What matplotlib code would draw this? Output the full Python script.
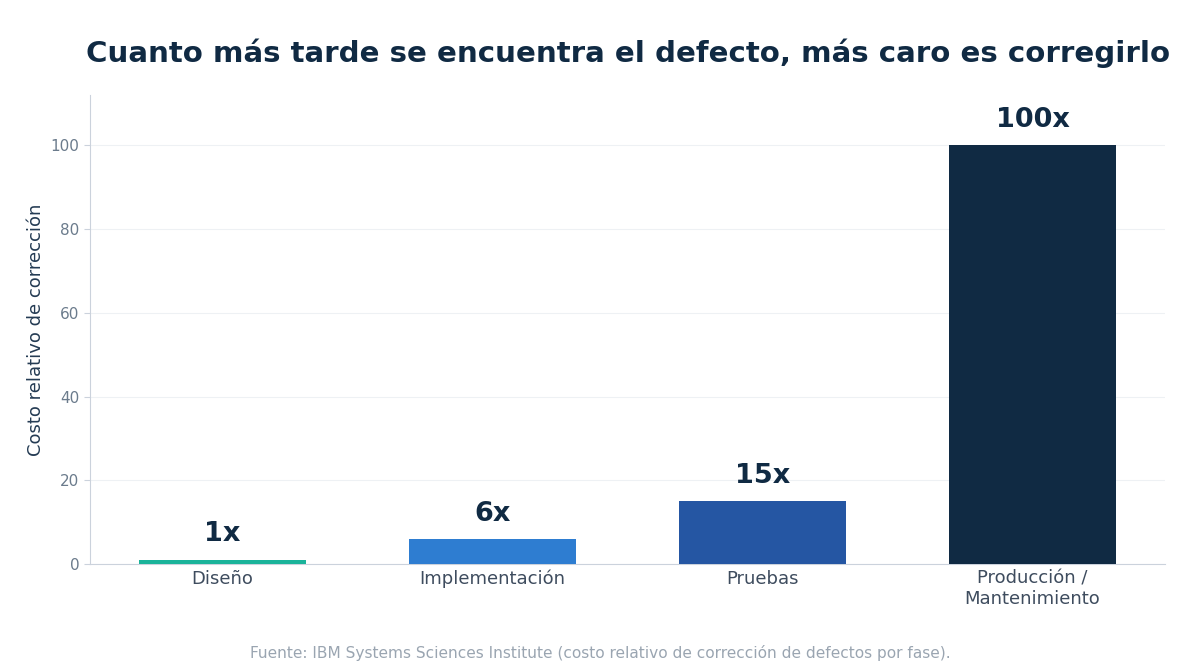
import matplotlib.pyplot as plt

# data
fases = ["Diseño", "Implementación", "Pruebas", "Producción /\nMantenimiento"]
costos = [1, 6, 15, 100]
etiquetas = ["1x", "6x", "15x", "100x"]
colores = ["#1ab39a", "#2e7dd1", "#2556a3", "#102a43"]

plt.rcParams["font.family"] = "DejaVu Sans"

fig = plt.figure(figsize=(12, 6.7), dpi=100)
ax = fig.add_axes([0.075, 0.158, 0.896, 0.7])

x = list(range(len(fases)))
ax.bar(x, costos, width=0.62, color=colores, zorder=3)

for xi, v, lab in zip(x, costos, etiquetas):
    ax.annotate(lab, (xi, v), xytext=(0, 9), textcoords="offset points",
                ha="center", va="bottom", fontsize=19.5, fontweight="bold",
                color="#102a43")

ax.set_ylim(0, 112)
ax.set_xticks(x)
ax.set_xticklabels(fases, fontsize=13, color="#3e4c5e")
ax.tick_params(axis="x", length=0, pad=4)
ax.tick_params(axis="y", labelsize=11, labelcolor="#6b7b8c", color="#cbd2dc", length=4)
ax.set_yticks([0, 20, 40, 60, 80, 100])
ax.set_ylabel("Costo relativo de corrección", fontsize=13, color="#243b53")
ax.grid(axis="y", color="#eef1f4", linewidth=0.8, zorder=0)

for s in ["top", "right"]:
    ax.spines[s].set_visible(False)
for s in ["left", "bottom"]:
    ax.spines[s].set_color("#cbd2dc")

ax.set_title("Cuanto más tarde se encuentra el defecto, más caro es corregirlo",
             fontsize=21.1, fontweight="bold", color="#102a43", pad=24)

fig.text(0.5, 0.026, "Fuente: IBM Systems Sciences Institute (costo relativo de corrección de defectos por fase).",
         ha="center", va="center", fontsize=11.1, color="#9aa5b1")

fig.savefig("out.png", dpi=100)
